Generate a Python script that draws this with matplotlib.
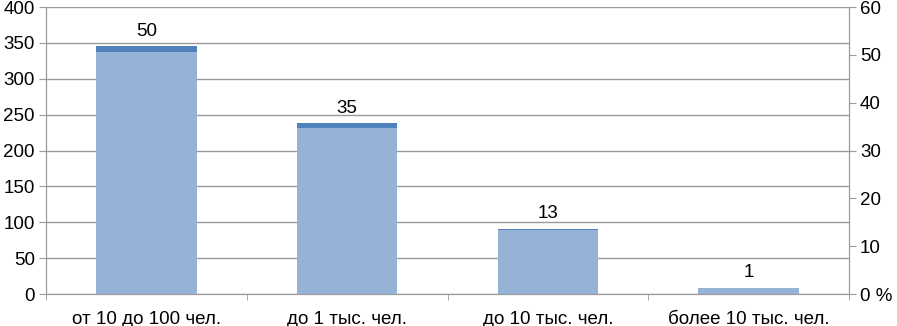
import numpy as np
import matplotlib.pyplot as plt

plt.rcParams['font.family'] = ['Liberation Sans', 'DejaVu Sans']

# ============================================================
# DATA
# ============================================================

categories = ["от 10 до 100 чел.", "до 1 тыс. чел.", "до 10 тыс. чел.", "более 10 тыс. чел."]
counts = [345, 238, 91, 9]
percents = [50.5, 34.8, 13.3, 1.3]
labels = ["50", "35", "13", "1"]

left_ticks = [0, 50, 100, 150, 200, 250, 300, 350, 400]
right_ticks = [0, 10, 20, 30, 40, 50, 60]
right_labels = ["0 %", "10", "20", "30", "40", "50", "60"]

# ============================================================
# PLOT
# ============================================================

grey = "#9a9a9a"
fs = 13.5
fig = plt.figure(figsize=(8.97, 3.26), dpi=100)
ax = fig.add_axes([0.0513, 0.098, 0.8952, 0.8805])
ax2 = ax.twinx()

x = np.arange(len(categories))

ax.bar(x, counts, width=0.5, color="#4F81BD", zorder=2)
ax2.bar(x, percents, width=0.5, color="#95B3D7", zorder=2)

for xi, c, lab in zip(x, counts, labels):
    ax.text(xi, c + 9, lab, ha="center", va="bottom", fontsize=fs)

ax.set_xlim(-0.5, len(categories) - 0.5)
ax.set_ylim(0, 400)
ax2.set_ylim(0, 60)

ax.set_yticks(left_ticks)
ax2.set_yticks(right_ticks)
ax2.set_yticklabels(right_labels)

ax.set_xticks(x)
ax.set_xticklabels(categories)
ax.set_xticks(np.arange(-0.5, len(categories)), minor=True)
ax.tick_params(axis="x", which="major", length=0, labelsize=fs, pad=12)
ax.tick_params(axis="x", which="minor", length=4, color=grey)
ax.tick_params(axis="y", length=5, color=grey, labelsize=fs, pad=3)
ax2.tick_params(axis="y", length=5, color=grey, labelsize=fs, pad=3)

ax.grid(axis="y", color=grey, linewidth=1, zorder=0)
ax.set_axisbelow(True)

for a in (ax, ax2):
    a.spines["top"].set_visible(False)
    for s in ("left", "right", "bottom"):
        a.spines[s].set_color(grey)

plt.savefig("out.png", dpi=100)
